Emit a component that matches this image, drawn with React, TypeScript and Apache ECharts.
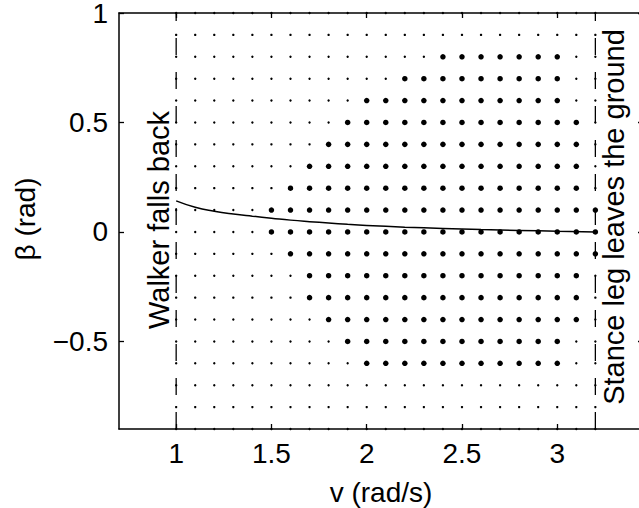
import React, { useEffect, useRef } from "react";
import * as echarts from "echarts";

// grid of sampled initial conditions
const vGrid = [1.0, 1.1, 1.2, 1.3, 1.4, 1.5, 1.6, 1.7, 1.8, 1.9, 2.0, 2.1, 2.2, 2.3, 2.4, 2.5, 2.6, 2.7, 2.8, 2.9, 3.0, 3.1, 3.2];
const betaRows = [1.0, 0.9, 0.8, 0.7, 0.6, 0.5, 0.4, 0.3, 0.2, 0.1, 0.0, -0.1, -0.2, -0.3, -0.4, -0.5, -0.6, -0.7, -0.8, -0.9];
// per row: [vMin, vMax] of the large (stable) dots, null = none
const bigRanges: (number[] | null)[] = [
  null, null,
  [2.4, 3.0], [2.2, 3.0], [2.0, 3.0],
  [1.9, 3.1], [1.8, 3.1], [1.7, 3.1], [1.6, 3.1],
  [1.5, 3.2], [1.5, 3.2], [1.6, 3.2],
  [1.7, 3.1], [1.7, 3.1], [1.8, 3.1],
  [1.9, 3.0], [2.0, 3.0],
  null, null, null,
];

// fixed-point curve
const curveV = [1.0, 1.1, 1.2, 1.3, 1.4, 1.5, 1.6, 1.7, 1.8, 1.9, 2.0, 2.2, 2.4, 2.6, 2.8, 3.0, 3.2];
const curveBeta = [0.142, 0.113, 0.095, 0.082, 0.072, 0.063, 0.054, 0.047, 0.041, 0.035, 0.030, 0.022, 0.016, 0.011, 0.007, 0.003, 0.0];

const xTicks = [1, 1.5, 2, 2.5, 3];
const yTicks = [-0.5, 0, 0.5, 1];
const boundaryV = [1.0, 3.2];

const FONT = "'Liberation Sans', Arial, Helvetica, sans-serif";

export default function App() {
  const ref = useRef<HTMLDivElement>(null);
  useEffect(() => {
    if (!ref.current) return;
    const chart = echarts.init(ref.current, null, { renderer: "svg" });
    const small: number[][] = [];
    const big: number[][] = [];
    betaRows.forEach((b, i) => {
      const r = bigRanges[i];
      vGrid.forEach((v) => {
        if (r && v >= r[0] - 1e-9 && v <= r[1] + 1e-9) big.push([v, b]);
        else small.push([v, b]);
      });
    });
    const curve = curveV.map((v, i) => [v, curveBeta[i]]);
    const axisLine = { show: true, onZero: false, lineStyle: { color: "#000", width: 1.5 } };
    const tickStyle = { color: "#000", width: 1.3 };
    const dashed = boundaryV.map((v) => ({
      type: "line",
      data: [[v, -0.9], [v, 1.0]],
      symbol: "none",
      lineStyle: { color: "#000", width: 1.3, type: [17, 17] },
      z: 3,
      silent: true,
    }));
    chart.setOption({
      animation: false,
      backgroundColor: "#fff",
      grid: { left: 119, top: 13, width: 524, height: 416, containLabel: false, outerBoundsMode: "none" },
      xAxis: [
        {
          type: "value", min: 0.7, max: 3.45, position: "bottom",
          axisLine, splitLine: { show: false },
          axisTick: { show: true, inside: true, length: 5, customValues: xTicks, lineStyle: tickStyle },
          axisLabel: { show: true, customValues: xTicks, color: "#000", fontSize: 28, fontFamily: FONT, margin: 10, formatter: (v: number) => String(v) },
        },
        {
          type: "value", min: 0.7, max: 3.45, position: "top",
          axisLine, splitLine: { show: false },
          axisTick: { show: true, inside: true, length: 5, customValues: xTicks, lineStyle: tickStyle },
          axisLabel: { show: false },
        },
      ],
      yAxis: [
        {
          type: "value", min: -0.9, max: 1.0, position: "left",
          axisLine, splitLine: { show: false },
          axisTick: { show: true, inside: true, length: 5, customValues: yTicks, lineStyle: tickStyle },
          axisLabel: { show: true, customValues: yTicks, color: "#000", fontSize: 28, lineHeight: 22, fontFamily: FONT, margin: 11, formatter: (v: number) => String(v).replace("-", "\u2212") },
        },
        {
          type: "value", min: -0.9, max: 1.0, position: "right",
          axisLine, splitLine: { show: false },
          axisTick: { show: true, inside: true, length: 5, customValues: yTicks, lineStyle: tickStyle },
          axisLabel: { show: false },
        },
      ],
      series: [
        { type: "scatter", data: small, symbol: "circle", symbolSize: 2.4, itemStyle: { color: "#000", opacity: 1 }, z: 2, silent: true },
        { type: "scatter", data: big, symbol: "circle", symbolSize: 5.5, itemStyle: { color: "#000", opacity: 1 }, z: 2, silent: true },
        ...dashed,
        { type: "line", data: curve, smooth: true, symbol: "none", lineStyle: { color: "#000", width: 1.5 }, z: 4, silent: true },
      ],
      graphic: [
        { type: "text", x: 25, y: 219, rotation: Math.PI / 2, style: { text: "\u03b2 (rad)", fontSize: 28, fontFamily: FONT, fill: "#000", align: "center", verticalAlign: "middle" } },
        { type: "text", x: 381, y: 492, style: { text: "v (rad/s)", fontSize: 28, fontFamily: FONT, fill: "#000", align: "center", verticalAlign: "middle" } },
        { type: "text", x: 159, y: 220, rotation: Math.PI / 2, style: { text: "Walker falls back", fontSize: 29, fontFamily: FONT, fill: "#000", align: "center", verticalAlign: "middle" } },
        { type: "text", x: 614, y: 217, rotation: Math.PI / 2, style: { text: "Stance leg leaves the ground", fontSize: 29, fontFamily: FONT, fill: "#000", align: "center", verticalAlign: "middle" } },
      ],
    });
    return () => chart.dispose();
  }, []);
  return <div ref={ref} style={{ position: "fixed", left: 0, top: 0, width: 639, height: 508, background: "#fff" }} />;
}
